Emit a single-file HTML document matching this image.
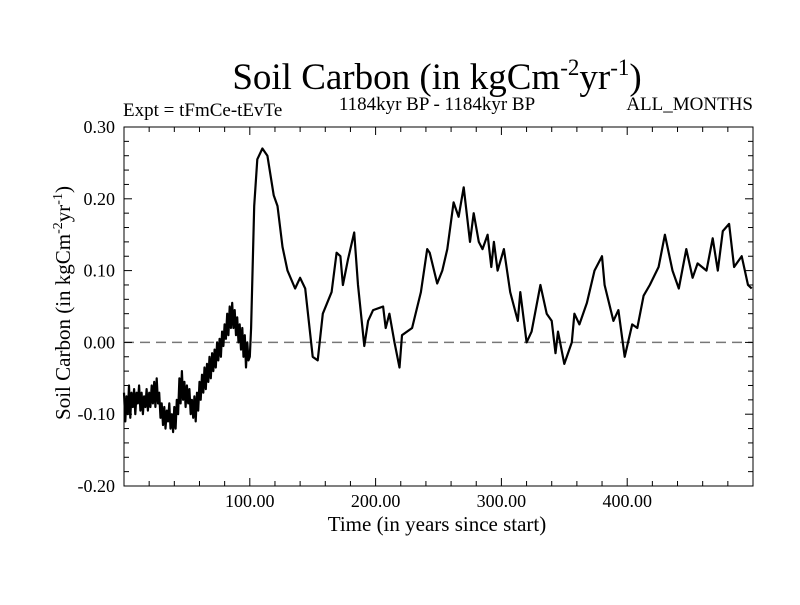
<!DOCTYPE html>
<html><head><meta charset="utf-8"><style>
body{margin:0;background:#fff;width:800px;height:600px;overflow:hidden}
svg text{font-family:"Liberation Serif",serif;fill:#000}
</style></head><body>
<svg id="chart" width="800" height="600">
<text x="437" y="89" font-size="37" text-anchor="middle">Soil Carbon (in kgCm<tspan dy="-14" font-size="23">-2</tspan><tspan dy="14">yr</tspan><tspan dy="-14" font-size="23">-1</tspan><tspan dy="14">)</tspan></text>
<text x="123" y="116" font-size="19">Expt = tFmCe-tEvTe</text>
<text x="437" y="110" font-size="19" text-anchor="middle">1184kyr BP - 1184kyr BP</text>
<text x="753" y="110" font-size="19" text-anchor="end">ALL_MONTHS</text>
<text x="437" y="531" font-size="21" text-anchor="middle">Time (in years since start)</text>
<text transform="translate(70,303) rotate(-90)" font-size="21" text-anchor="middle">Soil Carbon (in kgCm<tspan dy="-8" font-size="14">-2</tspan><tspan dy="8">yr</tspan><tspan dy="-8" font-size="14">-1</tspan><tspan dy="8">)</tspan></text>
<g id="axes"></g>
<g id="series"></g>
</svg>
<script>
const times = [0,1,2,3,4,5,6,7,8,9,10,11,12,13,14,15,16,17,18,19,20,21,22,23,24,25,26,27,28,29,30,31,32,33,34,35,36,37,38,39,40,41,42,43,44,45,46,47,48,49,50,51,52,53,54,55,56,57,58,59,60,61,62,63,64,65,66,67,68,69,70,71,72,73,74,75,76,77,78,79,80,81,82,83,84,85,86,87,88,89,90,91,92,93,94,95,96,97,98,99,100,101,103.5,106,110,114,119,122,126,130,136,140,144,150,154,158,165,169,172,174,178,183,186,191,194,198,206,208,211,215,219,221,229,236,241,243,249,253,257,262,266,270,275,278,282,285,289,292,294,297,302,307,313,315,320,324,331,336,340,343,345,350,356,358,362,368,374,380,382,389,393,398,404,408,413,418,425,430,436,441,447,452,456,463,468,472,476,481,485,491,496,499];
const values = [-0.07,-0.11,-0.075,-0.10,-0.06,-0.105,-0.07,-0.09,-0.065,-0.10,-0.07,-0.085,-0.06,-0.095,-0.07,-0.1,-0.075,-0.09,-0.065,-0.095,-0.07,-0.09,-0.06,-0.085,-0.055,-0.09,-0.05,-0.085,-0.07,-0.105,-0.085,-0.115,-0.09,-0.12,-0.095,-0.11,-0.085,-0.12,-0.1,-0.125,-0.09,-0.12,-0.08,-0.1,-0.05,-0.085,-0.04,-0.08,-0.055,-0.09,-0.06,-0.085,-0.065,-0.1,-0.08,-0.105,-0.075,-0.11,-0.07,-0.095,-0.055,-0.08,-0.045,-0.07,-0.035,-0.065,-0.03,-0.055,-0.02,-0.05,-0.015,-0.04,-0.01,-0.035,0.0,-0.025,0.005,-0.02,0.015,-0.005,0.025,0.005,0.04,0.01,0.05,0.02,0.055,0.02,0.045,0.01,0.035,0.0,0.025,-0.01,0.02,-0.02,0.01,-0.035,0.0,-0.025,-0.02,0.02,0.19,0.255,0.27,0.26,0.205,0.19,0.133,0.1,0.075,0.09,0.075,-0.02,-0.025,0.04,0.07,0.125,0.12,0.08,0.115,0.153,0.08,-0.005,0.03,0.045,0.05,0.02,0.04,0.0,-0.035,0.01,0.02,0.07,0.13,0.125,0.082,0.1,0.13,0.195,0.175,0.216,0.14,0.18,0.14,0.13,0.15,0.105,0.14,0.1,0.13,0.07,0.03,0.07,0.0,0.015,0.08,0.04,0.03,-0.015,0.015,-0.03,0.0,0.04,0.025,0.055,0.1,0.12,0.08,0.03,0.045,-0.02,0.025,0.02,0.065,0.08,0.105,0.15,0.1,0.075,0.13,0.09,0.11,0.1,0.145,0.1,0.155,0.165,0.105,0.12,0.08,0.075];
const xTicks = [100,200,300,400];
const xTickLabels = ["100.00","200.00","300.00","400.00"];
const yTicks = [-0.2,-0.1,0,0.1,0.2,0.3];
const yTickLabels = ["-0.20","-0.10","0.00","0.10","0.20","0.30"];

const L=124,R=753,T=127,B=486,X0=0,X1=500,Y0=-0.2,Y1=0.3;
const sx=t=>L+(t-X0)/(X1-X0)*(R-L);
const sy=v=>B-(v-Y0)/(Y1-Y0)*(B-T);
const NS="http://www.w3.org/2000/svg";
const axes=document.getElementById('axes');
function mk(tag,attrs,parent){const e=document.createElementNS(NS,tag);for(const k in attrs)e.setAttribute(k,attrs[k]);parent.appendChild(e);return e;}

const frame=mk('rect',{x:L,y:T,width:R-L,height:B-T,fill:'none',stroke:'#000','stroke-width':1},axes);



const zero=mk('line',{x1:L,x2:R,y1:sy(0),y2:sy(0),stroke:'#777','stroke-width':1.5,'stroke-dasharray':'10,6'},axes);



for(let t=20;t<500;t+=20){
  const major=xTicks.includes(t);const len=major?8:5;
  mk('line',{x1:sx(t),x2:sx(t),y1:B,y2:B-len,stroke:'#000'},axes);
  mk('line',{x1:sx(t),x2:sx(t),y1:T,y2:T+len,stroke:'#000'},axes);
}
for(let i=0;i<=25;i++){
  const v=-0.2+i*0.02;const major=i%5===0;const len=major?8:5;
  mk('line',{x1:L,x2:L+len,y1:sy(v),y2:sy(v),stroke:'#000'},axes);
  mk('line',{x1:R,x2:R-len,y1:sy(v),y2:sy(v),stroke:'#000'},axes);
}
xTicks.forEach((t,i)=>{
  const tx=mk('text',{x:sx(t),y:B+21,'font-size':18,'text-anchor':'middle'},axes);
  tx.textContent=xTickLabels[i];
  
  
});
yTicks.forEach((v,i)=>{
  const tx=mk('text',{x:L-9,y:sy(v)+6,'font-size':18,'text-anchor':'end'},axes);
  tx.textContent=yTickLabels[i];
  
  
});
let d='';
times.forEach((t,i)=>{d+=(i?'L':'M')+sx(t).toFixed(1)+','+sy(values[i]).toFixed(1);});
const line=mk('path',{d:d,fill:'none',stroke:'#000','stroke-width':2.2,'stroke-linejoin':'round'},document.getElementById('series'));


</script>
</body></html>
